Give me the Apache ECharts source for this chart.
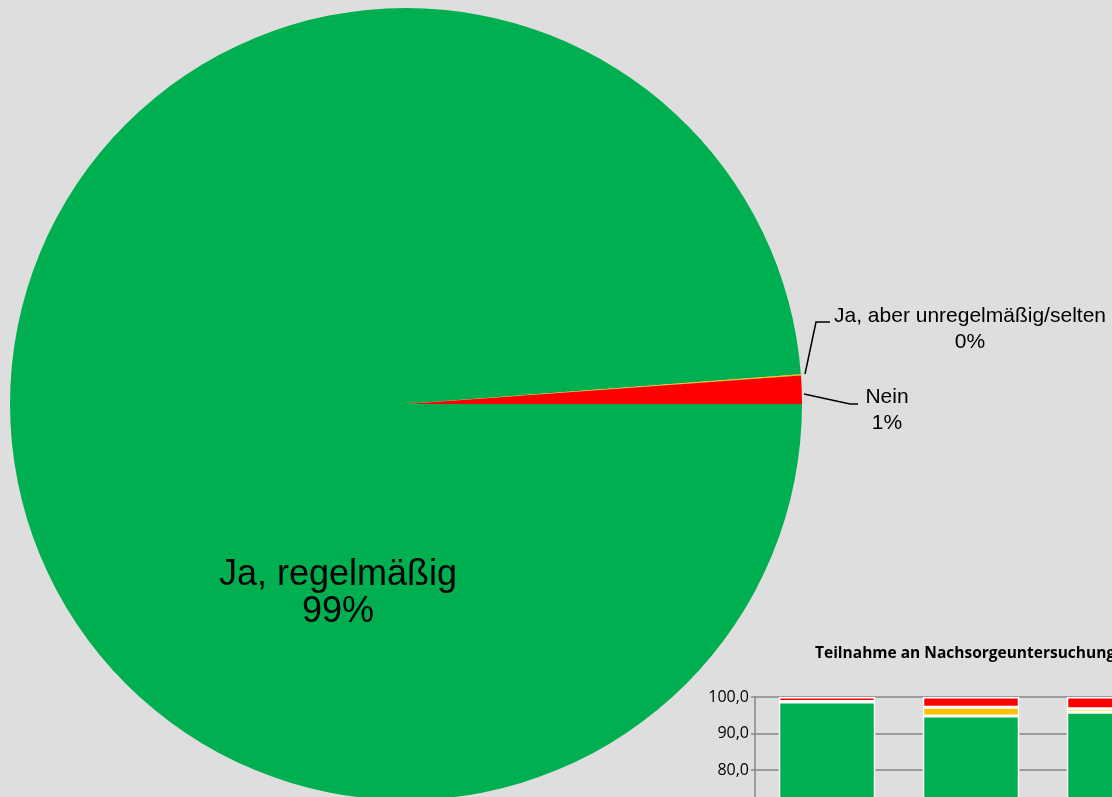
<!DOCTYPE html>
<html>
<head>
<meta charset="utf-8">
<script src="https://cdn.jsdelivr.net/npm/echarts@6/dist/echarts.min.js"></script>
<style>
  html, body { margin: 0; padding: 0; width: 1112px; height: 797px; overflow: hidden; background: #dedede; }
  #pie { position: absolute; left: 0; top: 0; width: 1112px; height: 797px; }
  #bars { position: absolute; left: 700px; top: 630px; width: 560px; height: 500px; }
</style>
</head>
<body>
<div id="pie"></div>
<div id="bars"></div>
<script>
// Daten Kreisdiagramm
var pieNames = ['Ja, regelmäßig', 'Ja, aber unregelmäßig/selten', 'Nein'];
var pieValues = [98.8, 0.05, 1.15];
var pieColors = ['#00b050', '#ffc000', '#ff0000'];

// Daten kleines Balkendiagramm (Ausschnitt)
var barTitle = 'Teilnahme an Nachsorgeuntersuchungen';
var barCategories = ['1', '2', '3'];
var barRegelmaessig = [98.6, 94.8, 95.8];
var barUnregelmaessig = [0.2, 2.4, 1.0];
var barNein = [1.2, 2.8, 3.2];
var yTicks = [0, 10, 20, 30, 40, 50, 60, 70, 80, 90, 100];

var myChart1 = echarts.init(document.getElementById('pie'));
var myChart2 = echarts.init(document.getElementById('bars'));

// Positionen der Beschriftungen
var labelPos = [
    { x: 338, y: 594, line: null },
    { x: 970, y: 329, line: [[805, 374], [816, 322], [830, 322]] },
    { x: 887, y: 410, line: [[804, 394], [850, 404], [858, 404]] }
];

var pieData = pieNames.map(function (n, i) {
    return {
        name: n,
        value: pieValues[i],
        itemStyle: { color: pieColors[i] },
        label: i === 0 ? { fontSize: 36, lineHeight: 37 } : { fontSize: 21, lineHeight: 26 },
        labelLine: { show: i !== 0 }
    };
});

var option1 = {
    backgroundColor: '#dedede',
    animation: false,
    series: [{
        type: 'pie',
        center: [406, 404],
        radius: [0, 396],
        startAngle: 0,
        clockwise: true,
        avoidLabelOverlap: false,
        minShowLabelAngle: 0,
        label: {
            show: true,
            color: '#000',
            fontFamily: 'Liberation Sans, Arial, sans-serif',
            align: 'center',
            formatter: function (p) { return p.name + '\n' + Math.round(p.percent) + '%'; }
        },
        labelLine: { lineStyle: { color: '#000', width: 1.5 } },
        labelLayout: function (p) {
            var lp = labelPos[p.dataIndex];
            var r = { x: lp.x, y: lp.y, align: 'center', verticalAlign: 'middle' };
            if (lp.line) r.labelLinePoints = lp.line;
            return r;
        },
        itemStyle: { borderWidth: 0 },
        emphasis: { disabled: true },
        data: pieData
    }]
};
myChart1.setOption(option1);

var barStyle = { borderColor: '#ffffff', borderWidth: 1.5 };
var option2 = {
    animation: false,
    title: {
        text: barTitle,
        left: 115,
        top: 16,
        padding: 0,
        textStyle: { fontFamily: 'Open Sans, sans-serif', fontWeight: 'bold', fontSize: 15.5, color: '#000' }
    },
    grid: { left: 55, top: 67, width: 432, height: 365 },
    xAxis: {
        type: 'category',
        data: barCategories,
        axisLine: { lineStyle: { color: '#868686', width: 1.5 } },
        axisTick: { show: false }
    },
    yAxis: {
        type: 'value',
        min: yTicks[0],
        max: yTicks[yTicks.length - 1],
        interval: 10,
        axisLine: { show: true, lineStyle: { color: '#868686', width: 1.5 } },
        axisTick: { show: true, length: 4, lineStyle: { color: '#868686', width: 1.5 } },
        splitLine: { lineStyle: { color: '#868686', width: 1.5 } },
        axisLabel: {
            color: '#000',
            fontFamily: 'Open Sans, sans-serif',
            fontSize: 16,
            margin: 6,
            formatter: function (v) { return v.toFixed(1).replace('.', ','); }
        }
    },
    series: [
        { name: 'Ja, regelmäßig', type: 'bar', stack: 'a', barCategoryGap: '33%', data: barRegelmaessig, itemStyle: Object.assign({ color: '#00b050' }, barStyle) },
        { name: 'Ja, aber unregelmäßig/selten', type: 'bar', stack: 'a', data: barUnregelmaessig, itemStyle: Object.assign({ color: '#ffc000' }, barStyle) },
        { name: 'Nein', type: 'bar', stack: 'a', data: barNein, itemStyle: Object.assign({ color: '#ff0000' }, barStyle) }
    ]
};
myChart2.setOption(option2);
</script>
</body>
</html>
